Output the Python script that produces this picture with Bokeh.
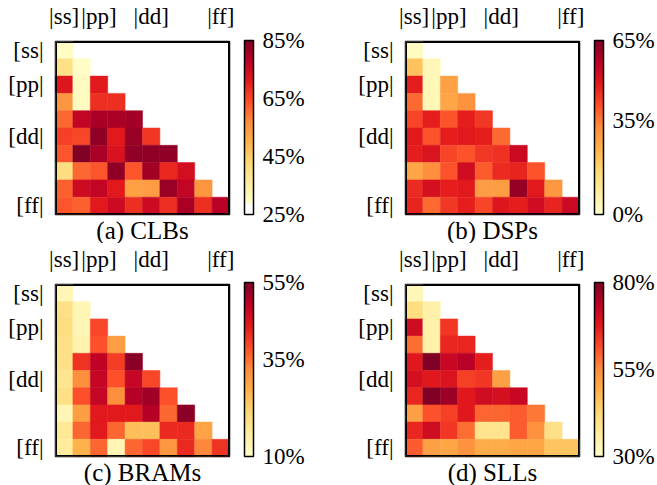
import numpy as np
from bokeh.plotting import figure
from bokeh.models import (ColumnDataSource, LinearColorMapper, ColorBar, FixedTicker,
                          Range1d, PrintfTickFormatter, BoxAnnotation, Title)
from bokeh.layouts import column, row
from bokeh.embed import file_html
from bokeh.resources import INLINE

# ---------------- data ----------------
top_labels = ["|ss]", "|pp]", "|dd]", "|ff]"]
left_labels = ["[ss|", "[pp|", "[dd|", "[ff|"]
label_cells = [0, 2, 5, 9]

clb_rows = [
    [30],
    [40, 30],
    [72, 31, 71],
    [55, 31, 68, 68],
    [61, 77, 80, 80, 81],
    [66, 65, 83, 71, 82, 67],
    [63, 85, 80, 73, 83, 83, 83],
    [41, 61, 63, 83, 63, 81, 69, 74],
    [62, 75, 77, 71, 53, 54, 82, 77, 55],
    [63, 62, 71, 75, 68, 75, 68, 80, 68, 78],
]
dsp_rows = [
    [2],
    [21, 4],
    [48, 4, 28],
    [37, 4, 27, 31],
    [42, 48, 40, 48, 44],
    [49, 40, 48, 49, 48, 37],
    [48, 51, 42, 40, 44, 45, 54],
    [27, 32, 40, 53, 39, 46, 47, 40],
    [46, 52, 48, 49, 29, 29, 62, 49, 30],
    [47, 37, 44, 48, 42, 50, 48, 53, 47, 54],
]
bram_rows = [
    [13],
    [19, 13],
    [20, 13, 39],
    [19, 14, 38, 30],
    [19, 41, 49, 40, 54],
    [18, 32, 48, 38, 48, 39],
    [19, 38, 48, 32, 50, 52, 38],
    [13, 30, 44, 44, 44, 50, 36, 54],
    [17, 36, 44, 36, 25, 25, 42, 42, 29],
    [16, 27, 36, 13, 36, 39, 31, 42, 33, 41],
]
sll_rows = [
    [33],
    [41, 35],
    [71, 35, 64],
    [58, 35, 66, 66],
    [68, 80, 72, 74, 67],
    [70, 68, 69, 63, 64, 52],
    [66, 80, 77, 68, 71, 70, 72],
    [52, 61, 63, 68, 59, 59, 60, 57],
    [66, 71, 64, 58, 39, 39, 60, 54, 40],
    [60, 52, 51, 54, 50, 50, 51, 51, 46, 46],
]

titles = ["(a) CLBs", "(b) DSPs", "(c) BRAMs", "(d) SLLs"]
ranges = [(25, 85), (0, 65), (10, 55), (30, 80)]
bar_ticks = [[25, 45, 65, 85], [0, 35, 65], [10, 35, 55], [30, 55, 80]]

# ---------------- style ----------------
FONT = "Liberation Serif"
YLORRD = ["#ffffcc", "#ffeda0", "#fed976", "#feb24c", "#fd8d3c",
          "#fc4e2a", "#e31a1c", "#bd0026", "#800026"]


def interp(colors, n):
    rgb = np.array([[int(c[i:i + 2], 16) for i in (1, 3, 5)] for c in colors], float)
    xs = np.linspace(0, 1, len(colors))
    t = np.linspace(0, 1, n)
    out = np.stack([np.interp(t, xs, rgb[:, k]) for k in range(3)], axis=1)
    return ["#%02x%02x%02x" % tuple(int(round(v)) for v in c) for c in out]


BASE = interp(YLORRD, 256)


def panel(rows, title, vr, ticks, width, height, top, white_under):
    p = figure(width=width, height=height, x_range=Range1d(0, 10), y_range=Range1d(10, 0),
               output_backend="svg", toolbar_location=None, tools="",
               x_axis_location="above", min_border_left=55, min_border_top=top,
               min_border_bottom=height - top - 174, min_border_right=width - 55 - 174)
    p.grid.visible = False
    p.outline_line_color = "black"
    p.outline_line_width = 1.5
    p.background_fill_color = "white"
    p.border_fill_color = "white"

    xs, ys, vs = [], [], []
    for i, r in enumerate(rows):
        for j, v in enumerate(r):
            xs.append(j + 0.5)
            ys.append(i + 0.5)
            vs.append(v)
    pal = list(BASE)
    if white_under:
        pal = ["#ffffff"] * 16 + interp(YLORRD, 240)
    mapper = LinearColorMapper(palette=pal, low=vr[0], high=vr[1])
    src = ColumnDataSource(dict(x=xs, y=ys, v=vs))
    p.rect("x", "y", 1, 1, source=src,
           fill_color={"field": "v", "transform": mapper},
           line_color={"field": "v", "transform": mapper}, line_width=0.5)

    p.add_layout(BoxAnnotation(left=0, right=10, bottom=10, top=0, fill_color=None,
                               fill_alpha=0, line_color="black", line_alpha=1.0,
                               line_width=3, level="overlay"))

    tick_pos = [c + 0.5 for c in label_cells]
    for ax, labels in ((p.xaxis[0], top_labels), (p.yaxis[0], left_labels)):
        ax.ticker = FixedTicker(ticks=tick_pos)
        ax.major_label_overrides = {t: l for t, l in zip(tick_pos, labels)}
        ax.axis_line_color = None
        ax.major_tick_line_color = None
        ax.minor_tick_line_color = None
        ax.major_tick_out = 0
        ax.major_tick_in = 0
        ax.major_label_text_font = FONT
        ax.major_label_text_font_size = "23px"
        ax.major_label_text_color = "black"
    p.xaxis[0].major_label_standoff = 13
    p.yaxis[0].major_label_standoff = 12
    p.yaxis[0].major_label_orientation = "horizontal"

    p.add_layout(Title(text=title, align="center", text_font=FONT, text_font_size="25px",
                       text_font_style="normal", text_color="black", standoff=0,
                       offset=0), "below")

    cb = ColorBar(color_mapper=mapper, ticker=FixedTicker(ticks=ticks),
                  formatter=PrintfTickFormatter(format="%d%%"),
                  width=9, height=174, padding=0, margin=0, location=(15, 0),
                  bar_line_color="black", bar_line_width=1.5,
                  major_tick_line_color=None, minor_tick_line_color=None,
                  label_standoff=9, major_label_text_font=FONT,
                  major_label_text_font_size="23px", major_label_text_color="black",
                  border_line_color=None, background_fill_color=None)
    p.add_layout(cb, "right")
    return p


all_rows = [clb_rows, dsp_rows, bram_rows, sll_rows]
widths = [350, 307, 350, 307]
heights = [243, 243, 242, 242]
tops = [40, 40, 41, 41]
figs = []
for k in range(4):
    figs.append(panel(all_rows[k], titles[k], ranges[k], bar_ticks[k], widths[k], heights[k],
                      tops[k], k == 0))

layout = column(row(figs[0], figs[1]), row(figs[2], figs[3]))
open("out.html", "w").write(file_html(layout, INLINE))
